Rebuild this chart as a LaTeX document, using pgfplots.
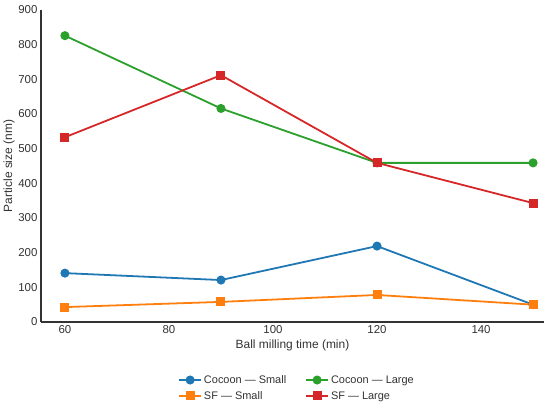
\documentclass[border=0pt]{standalone}
\usepackage{pgfplots}
\pgfplotsset{compat=1.18}
\usepackage{fontspec}
\setmainfont{Liberation Sans}
\definecolor{cblue}{HTML}{1F77B4}
\definecolor{corange}{HTML}{FF7F0E}
\definecolor{cgreen}{HTML}{2CA02C}
\definecolor{cred}{HTML}{D62728}
\definecolor{txt}{HTML}{333333}
\begin{document}
\begin{tikzpicture}[x=1bp,y=1bp]
\begin{axis}[
  at={(41bp,84bp)}, anchor=south west,
  scale only axis, width=503bp, height=312bp,
  xmin=55.4, xmax=152.1, ymin=0, ymax=900,
  axis x line*=bottom, axis y line*=left,
  axis line style={txt, line width=1.1pt},
  xtick={60,80,100,120,140}, ytick={0,100,200,300,400,500,600,700,800,900},
  major tick length=0pt,
  tick label style={font=\fontsize{11.5}{13}\selectfont, text=txt},
  /pgf/number format/assume math mode=true,
  xlabel={Ball milling time (min)}, ylabel={Particle size (nm)},
  label style={font=\fontsize{12}{14}\selectfont, text=txt},
  xlabel style={yshift=1bp},
  ylabel style={yshift=-3bp},
  legend columns=2,
  legend style={at={(0.509,-0.2115)}, anchor=center, draw=none, fill=none,
    font=\fontsize{11}{13}\selectfont, text=txt,
    /tikz/every even column/.append style={column sep=17bp},
    row sep=2.5bp},
  legend cell align=left,
  legend image code/.code={\draw[mark repeat=2,mark phase=2] plot coordinates {(0bp,0bp) (11bp,0bp) (22bp,0bp)};},
  every axis plot/.append style={line width=1.8pt},
]
\addplot[cblue, mark=*, mark size=3.6bp] coordinates {(60,141) (90,121) (120,219) (150,50)};
\addlegendentry{Cocoon — Small}
\addplot[cgreen, mark=*, mark size=3.6bp] coordinates {(60,826) (90,616) (120,459) (150,459)};
\addlegendentry{Cocoon — Large}
\addplot[corange, mark=square*, mark size=3.6bp] coordinates {(60,43) (90,58) (120,78) (150,50)};
\addlegendentry{SF — Small}
\addplot[cred, mark=square*, mark size=3.6bp] coordinates {(60,533) (90,712) (120,459) (150,343)};
\addlegendentry{SF — Large}
\end{axis}
\pgfresetboundingbox
\useasboundingbox (0,0) rectangle (550bp,406bp);
\end{tikzpicture}
\end{document}
